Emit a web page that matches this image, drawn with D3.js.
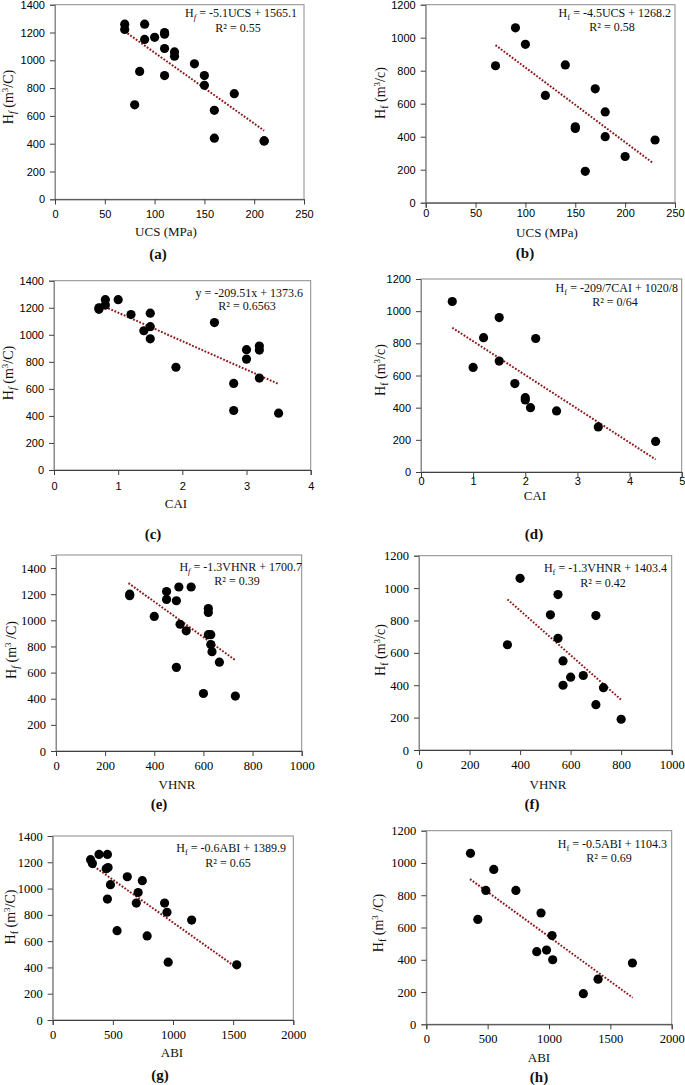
<!DOCTYPE html>
<html>
<head>
<meta charset="utf-8">
<script src="https://cdn.jsdelivr.net/npm/d3@7"></script>
<style>
  html, body { margin: 0; padding: 0; background: #fff; }
  svg { display: block; }
</style>
</head>
<body>
<svg id="chart" width="685" height="1085"></svg>
<script>
// ---------------- DATA ----------------
// (a) UCS vs Hf
const ucsA = [70, 70, 90, 90, 100, 110, 110, 110, 110, 120, 120, 140, 85, 150, 150, 180, 80, 160, 160, 210, 210];
const hfA  = [1260, 1222, 1260, 1150, 1165, 1200, 1188, 1085, 890, 1060, 1030, 975, 920, 890, 820, 760, 680, 640, 440, 420, 420];
const trendA = [[70, 1208], [210, 494]];
// (b) UCS vs Hf
const ucsB = [70, 90, 100, 120, 140, 150, 150, 160, 170, 180, 180, 200, 230];
const hfB  = [830, 1060, 960, 650, 835, 460, 450, 190, 690, 550, 400, 280, 380];
const trendB = [[70, 955], [228, 240]];
// (c) CAI vs Hf
const caiC = [0.7, 0.7, 0.8, 0.8, 1.0, 1.2, 1.4, 1.5, 1.5, 1.5, 1.9, 2.5, 2.8, 2.8, 3.0, 3.0, 3.2, 3.2, 3.2, 3.5];
const hfC  = [1200, 1188, 1260, 1220, 1260, 1150, 1030, 1160, 1060, 970, 760, 1090, 640, 440, 890, 820, 917, 887, 680, 420];
const trendC = [[0.7, 1227], [3.5, 636]];
// (d) CAI vs Hf
const caiD = [0.6, 1.0, 1.2, 1.5, 1.5, 1.8, 2.0, 2.0, 2.1, 2.2, 2.6, 3.4, 4.5];
const hfD  = [1060, 650, 835, 960, 690, 550, 462, 448, 400, 830, 380, 280, 190];
const trendD = [[0.6, 897], [4.5, 78]];
// (e) VHNR vs Hf
const vhnrE = [300, 300, 400, 450, 450, 490, 500, 550, 505, 530, 490, 620, 620, 620, 630, 630, 635, 665, 600, 730];
const hfE   = [1200, 1188, 1030, 1220, 1160, 1150, 1255, 1255, 970, 920, 640, 1090, 1060, 890, 890, 815, 760, 680, 440, 420];
const trendE = [[295, 1285], [730, 695]];
// (f) VHNR vs Hf
const vhnrF = [350, 400, 520, 550, 550, 570, 570, 600, 650, 700, 700, 730, 800];
const hfF   = [650, 1060, 835, 960, 690, 550, 400, 450, 460, 830, 280, 385, 190];
const trendF = [[350, 930], [800, 310]];
// (g) ABI vs Hf
const abiG = [315, 330, 385, 455, 445, 460, 480, 455, 535, 620, 710, 745, 695, 785, 930, 950, 960, 1155, 1530];
const hfG  = [1220, 1190, 1260, 1260, 1150, 1160, 1030, 920, 680, 1090, 970, 1060, 890, 640, 890, 820, 440, 760, 420];
const trendG = [[320, 1184], [1520, 404]];
// (h) ABI vs Hf
const abiH = [360, 420, 485, 550, 730, 900, 935, 980, 1025, 1030, 1280, 1400, 1680];
const hfH  = [1060, 650, 830, 960, 830, 450, 690, 460, 550, 400, 190, 280, 380];
const trendH = [[356, 900], [1682, 165]];

// tick values
const ticksUcs = [0, 50, 100, 150, 200, 250];
const ticksCai4 = [0, 1, 2, 3, 4];
const ticksCai5 = [0, 1, 2, 3, 4, 5];
const ticksVhnr = [0, 200, 400, 600, 800, 1000];
const ticksAbi = [0, 500, 1000, 1500, 2000];
const ticksHf1400 = [0, 200, 400, 600, 800, 1000, 1200, 1400];
const ticksHf1200 = [0, 200, 400, 600, 800, 1000, 1200];

// texts
const xTitles = ["UCS (MPa)", "UCS (MPa)", "CAI", "CAI", "VHNR", "VHNR", "ABI", "ABI"];
const panelLabels = ["(a)", "(b)", "(c)", "(d)", "(e)", "(f)", "(g)", "(h)"];
const eqLeft = ["H", "H", "y", "H", "H", "H", "H", "H"];
const eqRight = [" = -5.1UCS + 1565.1", " = -4.5UCS + 1268.2", " = -209.51x + 1373.6", " = -209/7CAI + 1020/8",
                 " = -1.3VHNR + 1700.7", " = -1.3VHNR + 1403.4", " = -0.6ABI + 1389.9", " = -0.5ABI + 1104.3"];
const r2Labels = ["R² = 0.55", "R² = 0.58", "R² = 0.6563", "R² = 0/64", "R² = 0.39", "R² = 0.42", "R² = 0.65", "R² = 0.69"];
const yUnits = ["/C)", "/c)", "/C)", "/c)", " /C)", "/c)", "/C)", " /C)"];

// ---------------- LAYOUT ----------------
const SANS = "'Liberation Sans', Arial, sans-serif";
const SERIF = "'Liberation Serif', 'Times New Roman', serif";

const panels = [
  { xs: ucsA, ys: hfA, tr: trendA, xt: ticksUcs, yt: ticksHf1400, xmax: 250, ymax: 1400, font: SANS, tfs: 11,
    p: [55, 304, 4.7, 199.3], xtb: 218, yt0: [13, 97], xti: [166, 236], lab: [158, 259], eq: [297, 17], r2: [238, 32], ital: true },
  { xs: ucsB, ys: hfB, tr: trendB, xt: ticksUcs, yt: ticksHf1200, xmax: 250, ymax: 1200, font: SANS, tfs: 11,
    p: [425.7, 675, 4.7, 202.7], xtb: 217, yt0: [385, 93], xti: [547, 237], lab: [525, 258], eq: [671, 17], r2: [612, 31], ital: false },
  { xs: caiC, ys: hfC, tr: trendC, xt: ticksCai4, yt: ticksHf1400, xmax: 4, ymax: 1400, font: SANS, tfs: 11,
    p: [54, 310.7, 280.7, 470], xtb: 490, yt0: [13, 373], xti: [176, 508], lab: [153, 539], eq: [303, 297], r2: [247, 310], ital: true },
  { xs: caiD, ys: hfD, tr: trendD, xt: ticksCai5, yt: ticksHf1200, xmax: 5, ymax: 1200, font: SANS, tfs: 11,
    p: [421, 681.7, 279, 472], xtb: 485, yt0: [385, 370], xti: [535, 500], lab: [534, 539], eq: [678, 292], r2: [615, 306], ital: false },
  { xs: vhnrE, ys: hfE, tr: trendE, xt: ticksVhnr, yt: ticksHf1400, xmax: 1000, ymax: 1500, font: SERIF, tfs: 12.5,
    p: [56, 301.7, 555, 751], xtb: 770, yt0: [16, 650], xti: [177, 789], lab: [159, 809], eq: [302, 571], r2: [237, 585], ital: true },
  { xs: vhnrF, ys: hfF, tr: trendF, xt: ticksVhnr, yt: ticksHf1200, xmax: 1000, ymax: 1200, font: SERIF, tfs: 12.5,
    p: [419, 671.7, 555.7, 750], xtb: 769, yt0: [385, 650], xti: [548, 789], lab: [532, 809], eq: [667, 572], r2: [603, 587], ital: false },
  { xs: abiG, ys: hfG, tr: trendG, xt: ticksAbi, yt: ticksHf1400, xmax: 2000, ymax: 1400, font: SERIF, tfs: 12.5,
    p: [52.7, 293.3, 836, 1020], xtb: 1039, yt0: [15, 917], xti: [172, 1057], lab: [160, 1080], eq: [286, 852], r2: [228, 867], ital: false },
  { xs: abiH, ys: hfH, tr: trendH, xt: ticksAbi, yt: ticksHf1200, xmax: 2000, ymax: 1200, font: SERIF, tfs: 12.5,
    p: [426.3, 671.7, 830.7, 1024.3], xtb: 1043, yt0: [383, 923], xti: [539, 1062], lab: [539, 1082], eq: [667, 848], r2: [609, 862], ital: false }
];

const svg = d3.select("#chart");

panels.forEach((P, i) => {
  const [x0, x1, y0, y1] = P.p;
  const x = d3.scaleLinear().domain([0, P.xmax]).range([x0, x1]);
  const y = d3.scaleLinear().domain([0, P.ymax]).range([y1, y0]);
  const g = svg.append("g");

  // frame
  g.append("rect").attr("x", x0).attr("y", y0).attr("width", x1 - x0).attr("height", y1 - y0)
    .attr("fill", "none").attr("stroke", "#8a8a8a").attr("stroke-width", 1);

  // left axis
  const ax = g.append("g").attr("transform", `translate(${x0},0)`)
    .call(d3.axisLeft(y).tickValues(P.yt).tickSize(5).tickPadding(5).tickFormat(d3.format("d")));
  ax.select(".domain").attr("stroke", "#8a8a8a");
  ax.selectAll(".tick line").attr("stroke", "#404040");
  ax.selectAll(".tick text").attr("font-family", P.font).attr("font-size", P.tfs).attr("fill", "#000");

  // bottom axis
  const bx = g.append("g").attr("transform", `translate(0,${y1})`)
    .call(d3.axisBottom(x).tickValues(P.xt).tickSize(5).tickFormat(d3.format("d")));
  bx.select(".domain").attr("stroke", "#404040");
  bx.selectAll(".tick line").attr("stroke", "#404040");
  bx.selectAll(".tick text").attr("font-family", P.font).attr("font-size", P.tfs).attr("fill", "#000")
    .attr("y", P.xtb - y1).attr("dy", 0);

  // trend line
  g.append("path").datum(P.tr)
    .attr("d", d3.line().x(d => x(d[0])).y(d => y(d[1])))
    .attr("fill", "none").attr("stroke", "#8b1a1a").attr("stroke-width", 2)
    .attr("stroke-dasharray", "1.8,1.6");

  // points
  g.selectAll("circle.pt").data(P.xs.map((v, k) => [v, P.ys[k]])).enter().append("circle")
    .attr("class", "pt").attr("cx", d => x(d[0])).attr("cy", d => y(d[1])).attr("r", 4.6).attr("fill", "#000");

  // equation
  const eq = g.append("text").attr("x", P.eq[0]).attr("y", P.eq[1]).attr("text-anchor", "end")
    .attr("font-family", SERIF).attr("font-size", 12).attr("fill", "#111");
  eq.append("tspan").text(eqLeft[i]);
  if (eqLeft[i] === "H") {
    eq.append("tspan").attr("font-size", 8.5).attr("dy", 3).attr("font-style", P.ital ? "italic" : null).text("f");
    eq.append("tspan").attr("dy", -3).text(eqRight[i]);
  } else {
    eq.append("tspan").text(eqRight[i]);
  }
  g.append("text").attr("x", P.r2[0]).attr("y", P.r2[1]).attr("text-anchor", "middle")
    .attr("font-family", SERIF).attr("font-size", 12).attr("fill", "#111").text(r2Labels[i]);

  // y title
  const yt = g.append("text").attr("transform", `translate(${P.yt0[0]},${P.yt0[1]}) rotate(-90)`)
    .attr("text-anchor", "middle").attr("font-family", SERIF).attr("font-size", 14).attr("fill", "#111");
  yt.append("tspan").text("H");
  yt.append("tspan").attr("font-size", 10).attr("dy", 3).attr("font-style", P.ital ? "italic" : null).text("f");
  yt.append("tspan").attr("dy", -3).text(" (m");
  yt.append("tspan").attr("font-size", 9).attr("dy", -5).text("3");
  yt.append("tspan").attr("dy", 5).text(yUnits[i]);

  // x title
  g.append("text").attr("x", P.xti[0]).attr("y", P.xti[1]).attr("text-anchor", "middle")
    .attr("font-family", SERIF).attr("font-size", 13).attr("fill", "#111").text(xTitles[i]);

  // panel label
  g.append("text").attr("x", P.lab[0]).attr("y", P.lab[1]).attr("text-anchor", "middle")
    .attr("font-family", SERIF).attr("font-size", 15).attr("font-weight", "bold").attr("fill", "#111").text(panelLabels[i]);
});
</script>
</body>
</html>
